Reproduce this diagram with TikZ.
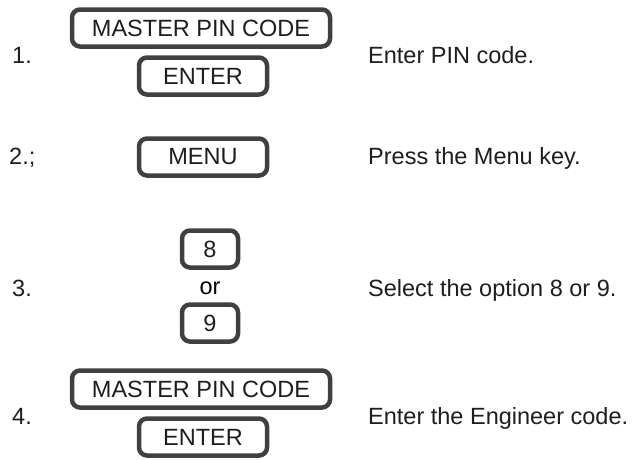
\documentclass[tikz,border=0pt]{standalone}
\usepackage{fontspec}
\setmainfont{Liberation Sans}
\usetikzlibrary{positioning}
\definecolor{keygray}{HTML}{404040}
\definecolor{txtgray}{HTML}{1E1E1E}

\begin{document}
\begin{tikzpicture}[x=1pt, y=-1pt, font=\fontsize{23.5}{28}\selectfont,
  keybox/.style={draw=keygray, line width=4.5pt, rounded corners=8pt,
    minimum height=37pt, inner sep=0pt, text=txtgray},
  steplabel/.style={anchor=base west, inner sep=0pt, text=txtgray},
  note/.style={anchor=base west, inner sep=0pt, text=txtgray}]
  \useasboundingbox (0,0) rectangle (634,459);
  % Step 1: master pin code
  \node[steplabel] (s1) at (12,63) {1.};
  \node[keybox, minimum width=258pt] (master1) at (201,28) {MASTER PIN CODE};
  \node[keybox, minimum width=128pt] (enter1) at (203,76) {ENTER};
  \node[note] (n1) at (368,63) {Enter PIN code.};
  % Step 2: menu key
  \node[steplabel] (s2) at (9,164) {2.;};
  \node[keybox, minimum width=128pt] (menu) at (203,157) {MENU};
  \node[note] (n2) at (368,164) {Press the Menu key.};
  % Step 3: option 8 or 9
  \node[steplabel] (s3) at (12,296) {3.};
  \node[keybox, minimum width=56pt] (opt8) at (210,249) {8};
  \node (or) at (210,288) {or};
  \node[keybox, minimum width=56pt] (opt9) at (210,323) {9};
  \node[note] (n3) at (368,296) {Select the option 8 or 9.};
  % Step 4: engineer code
  \node[steplabel] (s4) at (12,424) {4.};
  \node[keybox, minimum width=258pt] (master2) at (201,389) {MASTER PIN CODE};
  \node[keybox, minimum width=128pt] (enter2) at (203,437) {ENTER};
  \node[note] (n4) at (368,424) {Enter the Engineer code.};
\end{tikzpicture}
\end{document}
